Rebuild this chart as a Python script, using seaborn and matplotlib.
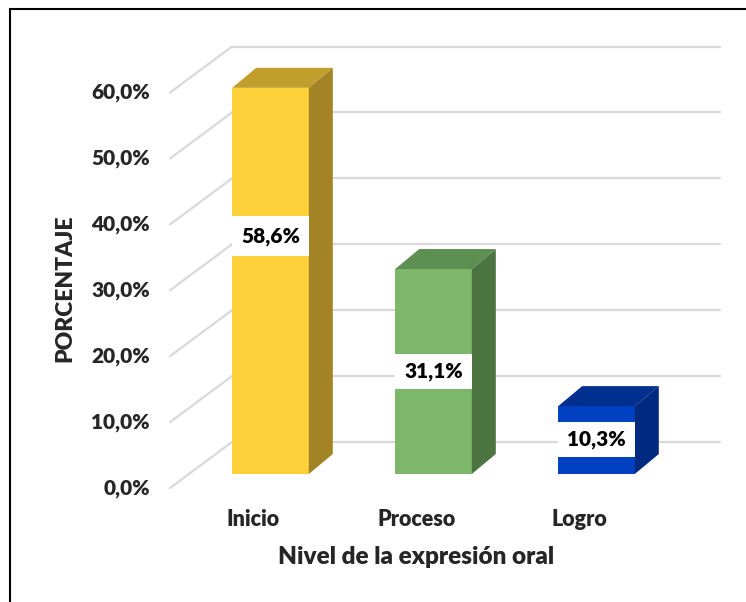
import matplotlib
matplotlib.use("Agg")
import matplotlib.pyplot as plt
import seaborn as sns
import pandas as pd
from matplotlib.patches import Polygon, Rectangle

categorias = ["Inicio", "Proceso", "Logro"]
porcentajes = [58.6, 31.1, 10.3]
etiquetas = ["58,6%", "31,1%", "10,3%"]
ticks = [0, 10, 20, 30, 40, 50, 60]
tick_labels = ["0,0%", "10,0%", "20,0%", "30,0%", "40,0%", "50,0%", "60,0%"]

col_frente = ["#FDD13A", "#7CB76B", "#0041C2"]
col_arriba = ["#C29F2C", "#5E8F52", "#00308F"]
col_lado = ["#A38424", "#4D7541", "#002A80"]

sns.set_style("white")
plt.rcParams["font.family"] = ["Lato", "DejaVu Sans"]
peso = "heavy"

W, H = 746, 602
fig = plt.figure(figsize=(W / 100, H / 100), dpi=100)
# axes in pixels: x 120..730, y 20..520 (from top)
ax = fig.add_axes([120 / W, (H - 520) / H, 610 / W, 500 / H])

px_x = 163.0   # pixels per category
px_y = 6.59    # pixels per percent

df = pd.DataFrame({"nivel": categorias, "pct": porcentajes})
sns.barplot(data=df, x="nivel", y="pct", hue="nivel", palette=col_frente,
            width=0.47, legend=False, ax=ax, zorder=3, saturation=1)
ax.set_xlim(-(270.5 - 120) / px_x, (730 - 270.5) / px_x)
ax.set_ylim(-(520 - 474) / px_y, (474 - 20) / px_y)

# perspective offsets (data units)
dx_bar, dy_bar = 24 / px_x, 20 / px_y
x_front, dy_front = (170 - 270.5) / px_x, (474 - 488) / px_y
x_back, dy_back = (232 - 270.5) / px_x, (474 - 442) / px_y
x_end = (720 - 270.5) / px_x

gris = "#D9D9D9"
for t in ticks:
    ax.plot([x_front, x_back], [t + dy_front, t + dy_back], color=gris, lw=1.6, zorder=0)
    ax.plot([x_back, x_end], [t + dy_back, t + dy_back], color=gris, lw=1.6, zorder=0)
ax.plot([x_back, x_end], [70 + dy_back, 70 + dy_back], color=gris, lw=1.6, zorder=0)

for i, bar in enumerate(ax.patches):
    x0 = bar.get_x()
    x1 = x0 + bar.get_width()
    h = bar.get_height()
    bar.set_edgecolor("none")
    top = Polygon([(x0, h), (x1, h), (x1 + dx_bar, h + dy_bar), (x0 + dx_bar, h + dy_bar)],
                  closed=True, facecolor=col_arriba[i], edgecolor="none", zorder=3)
    side = Polygon([(x1, 0), (x1, h), (x1 + dx_bar, h + dy_bar), (x1 + dx_bar, dy_bar)],
                   closed=True, facecolor=col_lado[i], edgecolor="none", zorder=3)
    ax.add_patch(top)
    ax.add_patch(side)

# value labels on white boxes
label_y = [36.1, 15.6, 5.3]
box_h = [40 / px_y, 35 / px_y, 35 / px_y]
for i, bar in enumerate(ax.patches[:3]):
    x0 = bar.get_x()
    w = bar.get_width()
    ax.add_patch(Rectangle((x0, label_y[i] - box_h[i] / 2), w, box_h[i],
                           facecolor="white", edgecolor="none", zorder=4))
    ax.text(x0 + w / 2, label_y[i], etiquetas[i], ha="center", va="center",
            fontsize=15, fontweight=peso, color="black", zorder=5)

# y tick labels on the front plane
for t, lab in zip(ticks, tick_labels):
    ax.text(x_front - 20 / px_x, t + dy_front, lab, ha="right", va="center",
            fontsize=15, fontweight=peso)

# category labels
for i, c in enumerate(categorias):
    ax.text(i - 17 / px_x, -(519 - 474) / px_y, c, ha="center", va="center",
            fontsize=15.5, fontweight=peso)

ax.set_xticks([])
ax.set_yticks([])
ax.set_xlabel("")
ax.set_ylabel("")
for s in ax.spines.values():
    s.set_visible(False)

fig.text(416 / W, 1 - 557 / H, "Nivel de la expresión oral", ha="center", va="center",
         fontsize=17.5, fontweight=peso)
fig.text(65 / W, 1 - 288 / H, "PORCENTAJE", ha="center", va="center", rotation=90,
         fontsize=16.5, fontweight=peso)

fig.patches.append(Rectangle((10 / W, -0.05), 1.1, 1 - 9 / H + 0.05, transform=fig.transFigure,
                             fill=False, edgecolor="black", lw=1.5))

fig.savefig("out.png", dpi=100)
